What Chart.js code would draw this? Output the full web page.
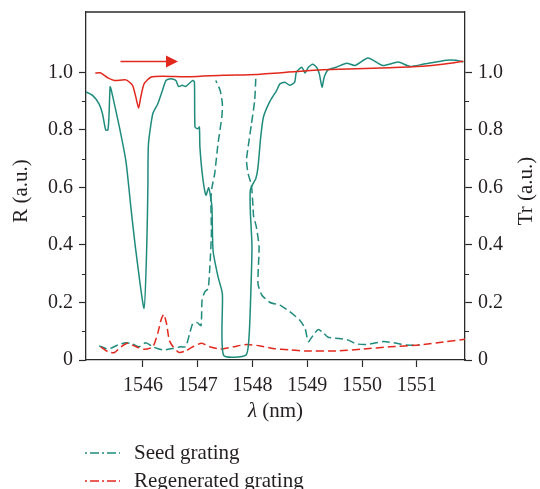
<!DOCTYPE html>
<html>
<head>
<meta charset="utf-8">
<script src="https://cdn.jsdelivr.net/npm/chart.js@4.4.0/dist/chart.umd.min.js"></script>
<style>
  html, body { margin: 0; padding: 0; background: #fff; }
</style>
</head>
<body>
<canvas id="spectrum_chart" width="540" height="489"></canvas>
<script>
// values (wavelength in nm, value in a.u.)

// seed grating, transmission (solid teal, right axis)
const seedTrWl = [1544.96, 1545.08, 1545.20, 1545.26, 1545.32, 1545.36, 1545.38, 1545.40, 1545.42, 1545.57,
  1545.69, 1545.78, 1545.87, 1546.02, 1546.07, 1546.09, 1546.10, 1546.18, 1546.27, 1546.36,
  1546.42, 1546.51, 1546.60, 1546.65, 1546.72, 1546.78, 1546.91, 1546.94, 1546.95, 1547.00,
  1547.03, 1547.04, 1547.09, 1547.15, 1547.20, 1547.23, 1547.26, 1547.28, 1547.37, 1547.45,
  1547.47, 1547.88, 1547.94, 1547.98, 1547.99, 1547.96, 1547.96, 1548.00, 1548.06, 1548.10,
  1548.15, 1548.20, 1548.32, 1548.44, 1548.50, 1548.59, 1548.68, 1548.77, 1548.80, 1548.90,
  1548.96, 1549.02, 1549.10, 1549.17, 1549.22, 1549.27, 1549.31, 1549.38, 1549.53, 1549.72,
  1549.87, 1550.11, 1550.38, 1550.66, 1550.87, 1551.11, 1551.54, 1551.72, 1551.85];
const seedTrVal = [0.932, 0.920, 0.890, 0.857, 0.800, 0.800, 0.850, 0.950, 0.940, 0.810,
  0.690, 0.530, 0.380, 0.180, 0.400, 0.600, 0.750, 0.857, 0.890, 0.940,
  0.972, 0.978, 0.972, 0.951, 0.955, 0.951, 0.972, 0.966, 0.810, 0.804,
  0.810, 0.740, 0.636, 0.573, 0.600, 0.573, 0.530, 0.380, 0.290, 0.230,
  0.017, 0.017, 0.090, 0.300, 0.400, 0.520, 0.590, 0.610, 0.630, 0.670,
  0.775, 0.845, 0.900, 0.937, 0.960, 0.966, 0.955, 0.966, 1.000, 1.018,
  0.998, 1.018, 1.028, 1.018, 0.995, 0.949, 0.984, 1.009, 1.018, 1.032,
  1.024, 1.050, 1.024, 1.036, 1.021, 1.028, 1.042, 1.042, 1.036];

// regenerated grating, transmission (solid red, right axis)
const regenTrWl = [1545.13, 1545.23, 1545.36, 1545.48, 1545.69, 1545.81, 1545.87, 1545.92, 1545.96, 1546.02,
  1546.15, 1546.36, 1546.86, 1547.47, 1548.07, 1548.80, 1549.28, 1549.90, 1550.50, 1551.10,
  1551.47, 1551.85];
const regenTrVal = [0.998, 0.998, 0.981, 0.972, 0.974, 0.955, 0.914, 0.876, 0.914, 0.960,
  0.984, 0.987, 0.985, 0.990, 0.993, 1.003, 1.009, 1.013, 1.016, 1.021,
  1.028, 1.039];

// seed grating, reflection (dashed teal, left axis); the top of the band lies under the red curve
const seedRWl = [1545.20, 1545.36, 1545.54, 1545.69, 1545.81, 1545.93, 1546.05, 1546.18, 1546.36, 1546.54,
  1546.69, 1546.78, 1546.85, 1546.91, 1546.99, 1547.06, 1547.08, 1547.13, 1547.19, 1547.22,
  1547.25, 1547.24, 1547.26, 1547.31, 1547.37, 1547.44, 1547.45, 1547.41, 1547.33, 1547.70,
  1548.06, 1548.04, 1547.98, 1547.92, 1547.89, 1547.92, 1547.98, 1548.01,
  1548.02, 1548.07, 1548.12, 1548.10, 1548.17, 1548.32, 1548.50, 1548.68, 1548.86, 1548.96,
  1549.02, 1549.11, 1549.20, 1549.29, 1549.38, 1549.59, 1549.75, 1549.90, 1550.08, 1550.39,
  1550.63, 1550.81, 1551.05];
const seedRVal = [0.049, 0.038, 0.052, 0.060, 0.056, 0.046, 0.060, 0.046, 0.035, 0.040,
  0.046, 0.046, 0.090, 0.127, 0.130, 0.120, 0.210, 0.237, 0.249, 0.320,
  0.440, 0.556, 0.600, 0.648, 0.752, 0.845, 0.890, 0.937, 0.972, null,
  0.978, 0.903, 0.820, 0.740, 0.694, 0.648, 0.608, 0.530,
  0.500, 0.463, 0.393, 0.266, 0.226, 0.200, 0.191, 0.168, 0.139, 0.110,
  0.064, 0.087, 0.106, 0.095, 0.079, 0.075, 0.069, 0.056, 0.054, 0.064,
  0.058, 0.052, 0.052];

// regenerated grating, reflection (dashed red, left axis)
const regenRWl = [1545.23, 1545.36, 1545.48, 1545.60, 1545.72, 1545.84, 1546.02, 1546.18, 1546.27, 1546.33,
  1546.38, 1546.43, 1546.48, 1546.55, 1546.66, 1546.78, 1546.91, 1547.07, 1547.22, 1547.41,
  1547.65, 1547.89, 1548.14, 1548.38, 1548.68, 1548.99, 1549.59, 1550.02, 1550.51, 1551.05,
  1551.54, 1551.88];
const regenRVal = [0.046, 0.029, 0.026, 0.046, 0.058, 0.049, 0.037, 0.046, 0.093, 0.139,
  0.159, 0.127, 0.069, 0.046, 0.026, 0.032, 0.046, 0.058, 0.046, 0.038,
  0.046, 0.054, 0.049, 0.040, 0.035, 0.031, 0.032, 0.038, 0.046, 0.052,
  0.064, 0.072];

const xTickValues = [1546, 1547, 1548, 1549, 1550, 1551];
const yTickValues = [0, 0.2, 0.4, 0.6, 0.8, 1.0];
const yMinorTicks = [0.1, 0.3, 0.5, 0.7, 0.9];
const xMin = 1544.96, xMax = 1551.88, yMax = 1.21;

// scan direction arrow (data units)
const arrowFrom = 1545.59, arrowTo = 1546.64, arrowLevel = 1.038;

const teal = '#1f8b7d';
const red = '#e2281c';
const axisColor = '#2a2a2a';
const textColor = '#231f20';
const serif = "'Liberation Serif', 'Times New Roman', serif";

function pairs(xs, ys) {
  return xs.map(function (x, i) { return { x: x, y: ys[i] }; });
}

function lineSet(label, xs, ys, color, axis, dashed, order) {
  return {
    label: label,
    data: pairs(xs, ys),
    yAxisID: axis,
    borderColor: color,
    backgroundColor: color,
    borderWidth: 1.5,
    borderDash: dashed ? [8, 4] : [],
    showLine: true,
    spanGaps: false,
    pointRadius: 0,
    tension: 0.2,
    fill: false,
    order: order
  };
}

function yAxis(pos, width) {
  return {
    type: 'linear',
    axis: 'y',
    position: pos,
    min: 0,
    max: yMax,
    afterBuildTicks: function (s) { s.ticks = yTickValues.map(function (v) { return { value: v }; }); },
    afterFit: function (s) { s.width = width; s.paddingTop = 0; s.paddingBottom = 0; },
    grid: { drawOnChartArea: false, tickLength: 7, tickColor: axisColor, tickWidth: 1.2 },
    border: { color: axisColor, width: 1.3 },
    ticks: {
      font: { family: serif, size: 20 },
      color: textColor,
      padding: 6,
      callback: function (v) { return v === 0 ? '0' : v.toFixed(1); }
    }
  };
}

// frame top, minor ticks, arrow, axis titles and legend
const extras = {
  id: 'extras',
  afterDraw: function (chart) {
    const ctx = chart.ctx;
    const a = chart.chartArea;
    const xs = chart.scales.x, ys = chart.scales.y;
    ctx.save();

    ctx.strokeStyle = axisColor;
    ctx.lineWidth = 1.3;
    ctx.beginPath();
    ctx.moveTo(a.left, a.top);
    ctx.lineTo(a.right, a.top);
    ctx.stroke();

    ctx.lineWidth = 1.2;
    for (const v of yMinorTicks) {
      const py = Math.round(ys.getPixelForValue(v)) + 0.5;
      ctx.beginPath();
      ctx.moveTo(a.left - 4, py); ctx.lineTo(a.left, py);
      ctx.moveTo(a.right, py); ctx.lineTo(a.right + 4, py);
      ctx.stroke();
    }

    // arrow
    const ay = ys.getPixelForValue(arrowLevel);
    const ax0 = xs.getPixelForValue(arrowFrom);
    const ax1 = xs.getPixelForValue(arrowTo);
    ctx.strokeStyle = red;
    ctx.fillStyle = red;
    ctx.lineWidth = 1.5;
    ctx.beginPath();
    ctx.moveTo(ax0, ay); ctx.lineTo(ax1 - 10, ay);
    ctx.stroke();
    ctx.beginPath();
    ctx.moveTo(ax1, ay); ctx.lineTo(ax1 - 12, ay - 6); ctx.lineTo(ax1 - 12, ay + 6);
    ctx.closePath();
    ctx.fill();

    // axis titles
    const midY = (a.top + a.bottom) / 2 + 5;
    ctx.fillStyle = textColor;
    ctx.font = '21px ' + serif;
    ctx.textAlign = 'center';
    ctx.textBaseline = 'middle';
    ctx.save();
    ctx.translate(21, midY);
    ctx.rotate(-Math.PI / 2);
    ctx.fillText('R (a.u.)', 0, 0);
    ctx.restore();
    ctx.save();
    ctx.translate(526, midY);
    ctx.rotate(-Math.PI / 2);
    ctx.fillText('Tr (a.u.)', 0, 0);
    ctx.restore();

    const lam = 'λ', unit = ' (nm)';
    ctx.font = 'italic 21px ' + serif;
    const w1 = ctx.measureText(lam).width;
    ctx.font = '21px ' + serif;
    const w2 = ctx.measureText(unit).width;
    const sx = (a.left + a.right) / 2 - (w1 + w2) / 2;
    ctx.textAlign = 'left';
    ctx.font = 'italic 21px ' + serif;
    ctx.fillText(lam, sx, 411);
    ctx.font = '21px ' + serif;
    ctx.fillText(unit, sx + w1, 411);

    // legend
    const items = [['Seed grating', teal, 453], ['Regenerated grating', red, 481]];
    for (const it of items) {
      ctx.strokeStyle = it[1];
      ctx.lineWidth = 1.5;
      ctx.setLineDash([2, 3, 9, 3]);
      ctx.beginPath();
      ctx.moveTo(85, it[2]); ctx.lineTo(120, it[2]);
      ctx.stroke();
      ctx.setLineDash([]);
      ctx.fillStyle = textColor;
      ctx.font = '21px ' + serif;
      ctx.textAlign = 'left';
      ctx.fillText(it[0], 134, it[2]);
    }
    ctx.restore();
  }
};

const spectrum_chart = new Chart(document.getElementById('spectrum_chart'), {
  type: 'scatter',
  data: {
    datasets: [
      lineSet('Regenerated grating Tr', regenTrWl, regenTrVal, red, 'y2', false, 0),
      lineSet('Seed grating Tr', seedTrWl, seedTrVal, teal, 'y2', false, 1),
      lineSet('Regenerated grating', regenRWl, regenRVal, red, 'y', true, 2),
      lineSet('Seed grating', seedRWl, seedRVal, teal, 'y', true, 3)
    ]
  },
  options: {
    responsive: false,
    animation: false,
    layout: { padding: { top: 12, bottom: 65, left: 0, right: 0 } },
    plugins: { legend: { display: false }, tooltip: { enabled: false } },
    scales: {
      x: {
        type: 'linear',
        position: 'bottom',
        min: xMin,
        max: xMax,
        afterBuildTicks: function (s) { s.ticks = xTickValues.map(function (v) { return { value: v }; }); },
        afterFit: function (s) { s.height = 64; s.paddingLeft = 0; s.paddingRight = 0; },
        grid: { drawOnChartArea: false, tickLength: 7, tickColor: axisColor, tickWidth: 1.2 },
        border: { color: axisColor, width: 1.3 },
        ticks: {
          font: { family: serif, size: 20 },
          color: textColor,
          padding: 7,
          maxRotation: 0,
          callback: function (v) { return String(v); }
        }
      },
      y: yAxis('left', 86),
      y2: yAxis('right', 75)
    }
  },
  plugins: [extras]
});
</script>
</body>
</html>
